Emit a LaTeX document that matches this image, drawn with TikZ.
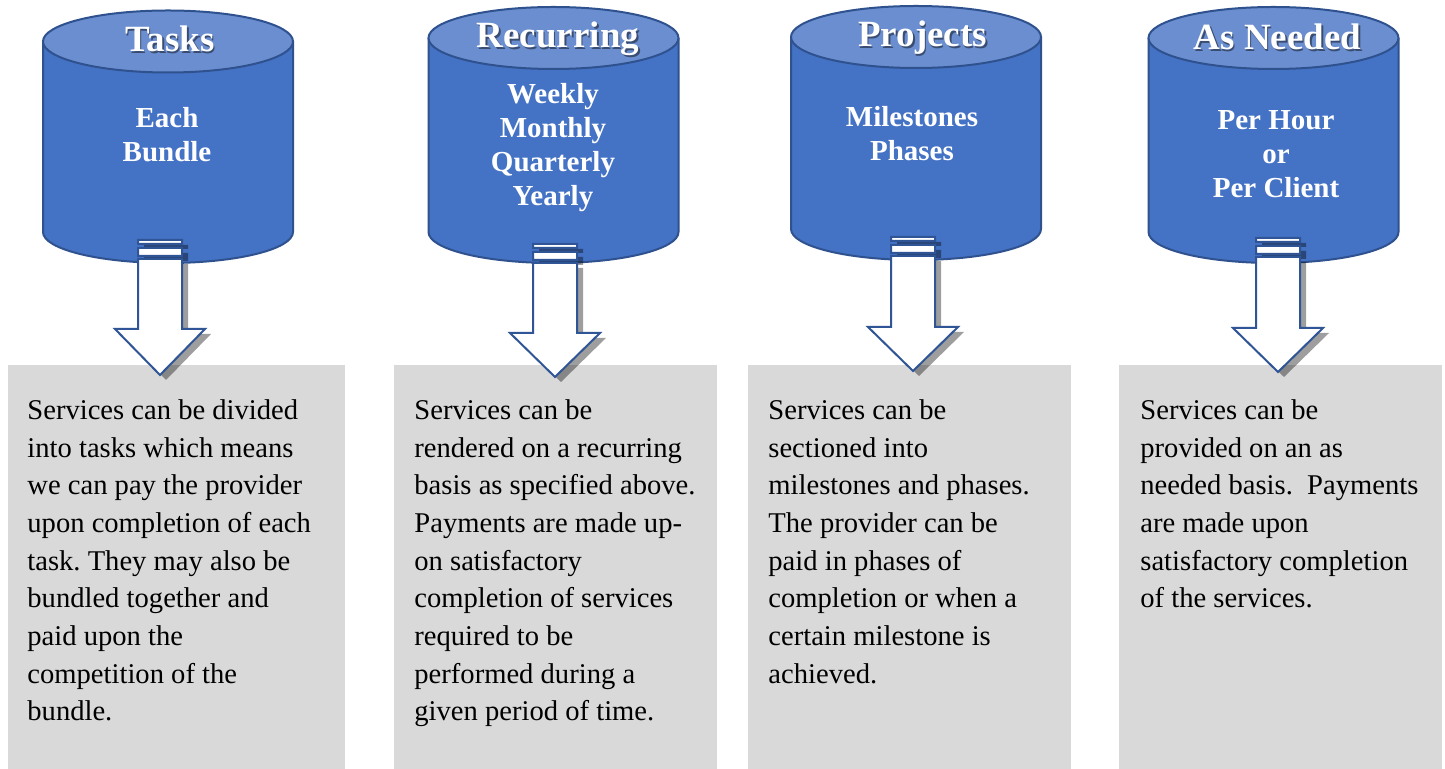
\documentclass[tikz,border=0pt]{standalone}
\usepackage{fontspec}
\setmainfont{Liberation Serif}
\frenchspacing
\definecolor{cylbody}{HTML}{4472C4}
\definecolor{cyltop}{HTML}{6A8ECF}
\definecolor{cylline}{HTML}{2F528F}
\definecolor{arrline}{HTML}{2F5597}
\definecolor{boxgray}{HTML}{D9D9D9}
\tikzset{
  graybox/.style={fill=boxgray, draw=none, inner sep=0pt, anchor=north west},
  bodytext/.style={anchor=north west, inner sep=0pt, align=left, text=black,
    font=\fontsize{14.3}{18.85}\selectfont},
  titletext/.style={anchor=base, inner sep=0pt, text=white,
    font=\fontsize{18.5}{20}\selectfont\bfseries},
  titleshadow/.style={anchor=base, inner sep=0pt, text=black, text opacity=0.45,
    font=\fontsize{18.5}{20}\selectfont\bfseries},
  subtext/.style={anchor=north, inner sep=0pt, align=center, text=white,
    font=\fontsize{14.5}{17}\selectfont\bfseries},
  cylfill/.style={fill=cylbody},
  cylborder/.style={draw=cylline, line width=1pt},
  arrowbody/.style={fill=white, draw=arrline, line width=1pt, line join=miter},
  arrowshadow/.style={fill=black, fill opacity=0.38, draw=none}
}
% cylinder: name, cx, top centre y, bottom centre y
\newcommand\mycyl[4]{%
  \fill[cylfill] ({#2-125},#3) -- ({#2-125},#4)
     arc[start angle=180, end angle=360, x radius=62.5pt, y radius=15.5pt]
     -- ({#2+125},#3) -- cycle;
  \draw[cylborder] ({#2-125},#3) -- ({#2-125},#4)
     arc[start angle=180, end angle=360, x radius=62.5pt, y radius=15.5pt]
     -- ({#2+125},#3);
  \filldraw[fill=cyltop, cylborder] (#2,#3) ellipse [x radius=62.5pt, y radius=15.5pt];
  \coordinate (#1) at (#2,#4);
}
% striped block arrow shape: cx, top y, head base y, tip y
\newcommand\myarrowshape[4]{%
  ({#1-22},#2) rectangle ({#1+22},{#2+4})
  ({#1-22},{#2+8}) rectangle ({#1+22},{#2+16})
  ({#1-22},{#2+19}) -- ({#1-22},#3) -- ({#1-45},#3) -- (#1,#4)
  -- ({#1+45},#3) -- ({#1+22},#3) -- ({#1+22},{#2+19}) -- cycle
}
\newcommand\myarrow[4]{%
  \fill[arrowshadow, shift={(6,5)}] \myarrowshape{#1}{#2}{#3}{#4};
  \filldraw[arrowbody] \myarrowshape{#1}{#2}{#3}{#4};
}
\begin{document}
\begin{tikzpicture}[x=0.5pt, y=-0.5pt]
\useasboundingbox (0,0) rectangle (1445,769);
\fill[white] (0,0) rectangle (1445,769);

% gray boxes
\node[graybox, minimum width=168.5pt, minimum height=202pt] (b1) at (8,365) {};
\node[graybox, minimum width=161.5pt, minimum height=202pt] (b2) at (394,365) {};
\node[graybox, minimum width=161.5pt, minimum height=202pt] (b3) at (748,365) {};
\node[graybox, minimum width=161.5pt, minimum height=202pt] (b4) at (1119,365) {};

% cylinders
\mycyl{c1}{168}{41.5}{232}
\mycyl{c2}{553.5}{38}{232}
\mycyl{c3}{916}{37}{229}
\mycyl{c4}{1273.5}{38}{232}

% titles
\node[titleshadow] at (171.5,53.5) {Tasks};
\node[titletext] (h1) at (170,52) {Tasks};
\node[titleshadow] at (559.5,49.5) {Recurring};
\node[titletext] (h2) at (558,48) {Recurring};
\node[titleshadow] at (924,48.5) {Projects};
\node[titletext] (h3) at (922.5,47) {Projects};
\node[titleshadow] at (1279,51.5) {As Needed};
\node[titletext] (h4) at (1277.5,50) {As Needed};

% subtitles
\node[subtext] (s1) at (167,103.2) {\strut Each\\Bundle};
\node[subtext] (s2) at (553,79.2) {\strut Weekly\\Monthly\\Quarterly\\Yearly};
\node[subtext] (s3) at (912,102.2) {\strut Milestones\\Phases};
\node[subtext] (s4) at (1276,105.2) {\strut Per Hour\\or\\Per Client};

% arrows
\myarrow{160}{240}{329}{375}
\myarrow{555}{244}{333}{377}
\myarrow{913}{237}{327}{371}
\myarrow{1278}{238}{328}{372}

% body text
\node[bodytext] (t1) at (27,392.6) {\strut Services can be divided\\into tasks which means\\we can pay the provider\\upon completion of each\\task. They may also be\\bundled together and\\paid upon the\\competition of the\\bundle.};
\node[bodytext] (t2) at (414,392.6) {\strut Services can be\\rendered on a recurring\\basis as specified above.\\Payments are made up-\\on satisfactory\\completion of services\\required to be\\performed during a\\given period of time.};
\node[bodytext] (t3) at (768,392.6) {\strut Services can be\\sectioned into\\milestones and phases.\\The provider can be\\paid in phases of\\completion or when a\\certain milestone is\\achieved.};
\node[bodytext] (t4) at (1140,392.6) {\strut Services can be\\provided on an as\\needed basis.~~Payments\\are made upon\\satisfactory completion\\of the services.};
\end{tikzpicture}
\end{document}
